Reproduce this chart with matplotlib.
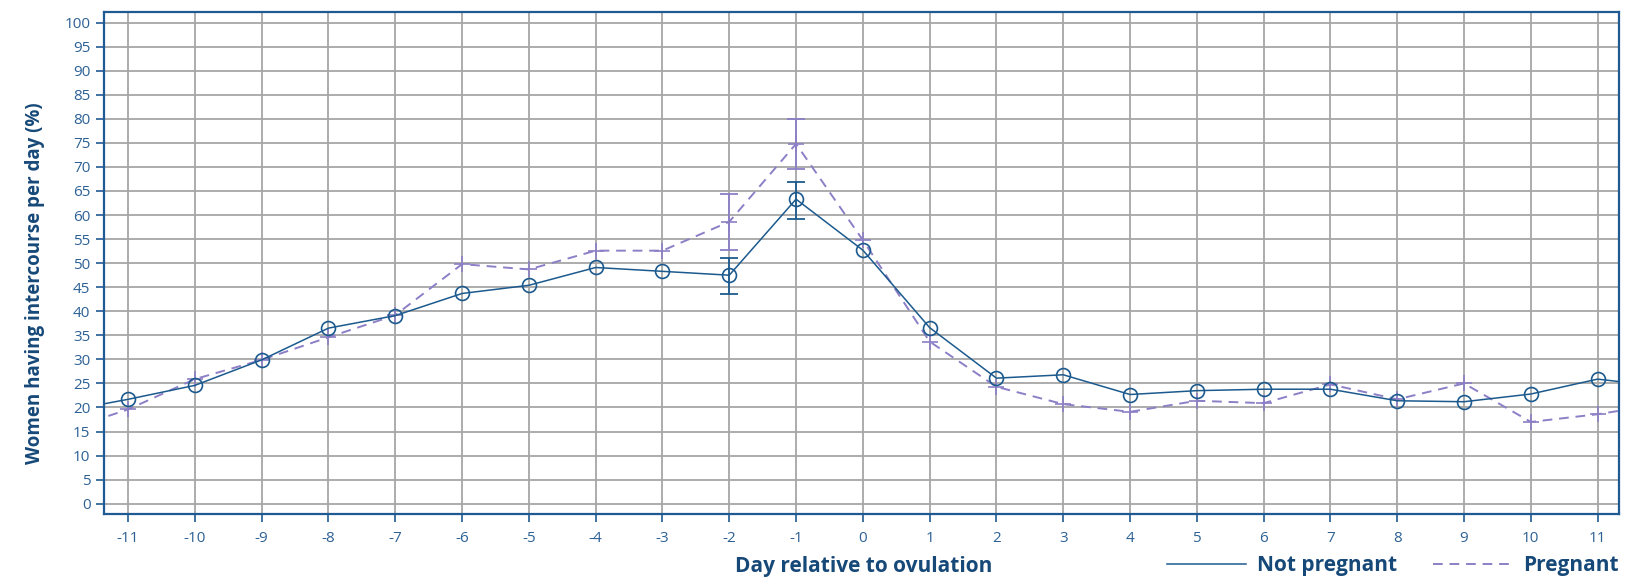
import numpy as np
import matplotlib.pyplot as plt
from matplotlib.lines import Line2D

plt.rcParams['font.family'] = ['Open Sans', 'DejaVu Sans']

# days relative to ovulation (-12 and 12 are clipped by the axes)
days = [-12, -11, -10, -9, -8, -7, -6, -5, -4, -3, -2, -1, 0, 1, 2, 3, 4, 5, 6, 7, 8, 9, 10, 11, 12]

not_pregnant = [19.1, 21.7, 24.6, 29.9, 36.5, 39.1, 43.7, 45.4, 49.1, 48.3, 47.5, 63.3, 52.7,
                36.6, 26.1, 26.8, 22.7, 23.5, 23.8, 23.8, 21.4, 21.2, 22.8, 25.9, 24.3]
pregnant = [15.0, 19.6, 25.9, 29.9, 34.6, 39.2, 49.8, 48.7, 52.6, 52.6, 58.6, 74.8, 54.8,
            33.7, 24.3, 20.7, 19.1, 21.4, 20.9, 24.8, 21.7, 25.0, 17.0, 18.6, 20.8]

# error bars (only shown around day -2 and -1)
err_days = [-2, -1]
np_mid = [47.5, 63.3]
np_low = [43.5, 59.2]
np_high = [51.1, 66.9]
p_mid = [58.6, 74.8]
p_low = [52.8, 69.5]
p_high = [64.3, 80.0]

x_ticks = list(range(-11, 12))
y_ticks = list(range(0, 101, 5))

col_np = '#1c5a8e'
col_p = '#8d7fc6'
col_axis = '#1f5a92'
col_text = '#2d6195'
col_label = '#164878'

fig = plt.figure(figsize=(16.49, 5.78), dpi=100)
ax = fig.add_axes([0.0633, 0.1102, 0.9185, 0.869])

ax.grid(True, color='#a6a6a6', linewidth=1.3, zorder=0)
ax.set_axisbelow(True)

ax.plot(days, not_pregnant, color=col_np, linewidth=1.1, marker='o', markersize=10,
        markerfacecolor='none', markeredgecolor=col_np, markeredgewidth=1.2, zorder=4)
ax.plot(days, pregnant, color=col_p, linewidth=1.4, dashes=(5, 3.5), marker='+',
        markersize=12, markeredgewidth=1.2, zorder=3)

np_err = [np.array(np_mid) - np.array(np_low), np.array(np_high) - np.array(np_mid)]
p_err = [np.array(p_mid) - np.array(p_low), np.array(p_high) - np.array(p_mid)]
ax.errorbar(err_days, np_mid, yerr=np_err, fmt='none', ecolor=col_np, elinewidth=1.3,
            capsize=6.5, capthick=1.3, zorder=5)
ax.errorbar(err_days, p_mid, yerr=p_err, fmt='none', ecolor=col_p, elinewidth=1.3,
            capsize=6.5, capthick=1.3, zorder=5)

ax.set_xlim(-11.355, 11.32)
ax.set_ylim(-2.2, 102.2)
ax.set_xticks(x_ticks)
ax.set_yticks(y_ticks)
ax.set_xticklabels([str(d) for d in x_ticks])
ax.set_yticklabels([str(v) for v in y_ticks])

for s in ax.spines.values():
    s.set_color(col_axis)
    s.set_linewidth(1.6)

ax.tick_params(axis='both', direction='out', length=6, width=1.2, color=col_axis,
               labelcolor=col_text, labelsize=11)
ax.tick_params(axis='x', pad=6)
ax.tick_params(axis='y', pad=4)

ax.set_ylabel('Women having intercourse per day (%)', fontsize=13.5, fontweight='bold',
              color=col_label, va='center')
ax.yaxis.set_label_coords(-0.0458, 0.46)
ax.set_xlabel('Day relative to ovulation', fontsize=15, fontweight='bold', color=col_label,
              va='center')
ax.xaxis.set_label_coords(0.5015, -0.103)

handles = [Line2D([], [], color=col_np, linewidth=1.1),
           Line2D([], [], color=col_p, linewidth=1.4, dashes=(5, 3.5))]
leg = ax.legend(handles, ['Not pregnant', 'Pregnant'], loc='center right',
                bbox_to_anchor=(0.9818, 0.0208), bbox_transform=fig.transFigure,
                ncol=2, frameon=False, borderpad=0, borderaxespad=0,
                handlelength=3.8, handletextpad=0.55, columnspacing=1.7,
                prop={'size': 15, 'weight': 'bold'})
for t in leg.get_texts():
    t.set_color(col_label)

fig.savefig('out.png', dpi=100)
